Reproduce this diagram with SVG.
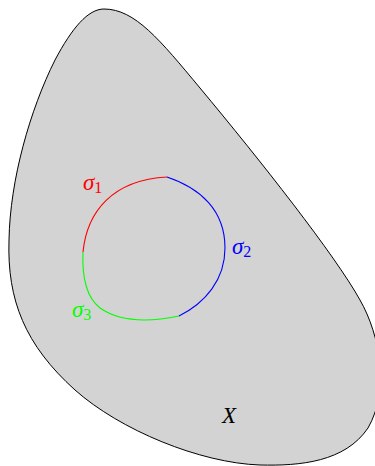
<svg xmlns="http://www.w3.org/2000/svg" width="375" height="466" viewBox="0 0 375 466">
<style>
.lbl{font-family:"Liberation Serif","DejaVu Serif",serif;font-size:23px;font-style:italic}
.sub{font-style:normal;font-size:16px}
.arc{fill:none;stroke-width:1.1}
</style>
<rect width="375" height="466" fill="#ffffff"/>
<g id="X">
<path d="M104,9 C135,9 160,40 200,88 C260,160 335,255 360,300 C380,335 390,390 368,428 C345,462 300,466 260,465 C200,463 120,430 75,390 C25,345 7,300 9,240 C10,180 30,110 55,60 C72,28 88,9 104,9 Z" fill="#d3d3d3" stroke="#000" stroke-width="1"/>
<text class="lbl" x="222" y="423" font-size="24">X</text>
</g>
<g id="connectors">
<path id="sigma1" class="arc" stroke="#ff0000" d="M83,252 C87,212 112,180 167,177"/>
<path id="sigma2" class="arc" stroke="#0000ff" d="M167,177 C200,188 225,210 225,248 C225,280 205,303 179,316"/>
<path id="sigma3" class="arc" stroke="#00ff00" d="M179,316 C150,322 120,322 100,308 C86,297 82,275 83,252"/>
</g>
<g id="labels">
<text class="lbl" x="83" y="190" fill="#ff0000">σ<tspan class="sub" dy="3">1</tspan></text>
<text class="lbl" x="232" y="254" fill="#0000ff">σ<tspan class="sub" dy="3">2</tspan></text>
<text class="lbl" x="72" y="317" fill="#00ff00">σ<tspan class="sub" dy="3">3</tspan></text>
</g>
</svg>
